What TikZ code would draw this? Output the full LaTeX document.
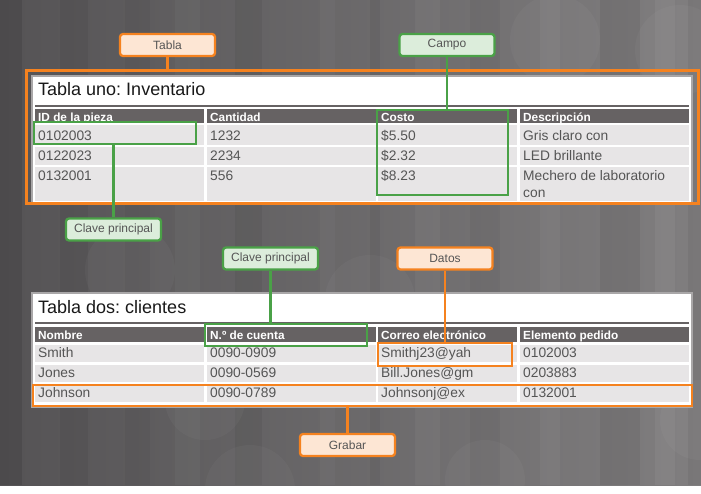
\documentclass[tikz,border=0pt]{standalone}
\usepackage{fontspec}
\setmainfont{Liberation Sans}
\frenchspacing
\usetikzlibrary{calc}

\definecolor{bgleft}{HTML}{555355}
\definecolor{bgright}{HTML}{807E7F}
\definecolor{orangerim}{HTML}{F5821F}
\definecolor{orangefill}{HTML}{FDE6D4}
\definecolor{greenrim}{HTML}{4AA147}
\definecolor{greenfill}{HTML}{DCEDDB}
\definecolor{headgray}{HTML}{666263}
\definecolor{rowgray}{HTML}{E7E5E6}
\definecolor{celltext}{HTML}{555555}
\definecolor{panelrim}{HTML}{A9A7A8}

\tikzset{
  tag/.style={rounded corners=3pt, line width=2.3pt, minimum width=95pt,
    minimum height=22pt, inner sep=0pt, text=celltext,
    font=\fontsize{12}{14}\selectfont},
  orangetag/.style={tag, draw=orangerim, fill=orangefill},
  greentag/.style={tag, draw=greenrim, fill=greenfill},
  hibox/.style={draw, line width=2.8pt, inner sep=0pt},
  link/.style={line width=2.6pt},
  title/.style={anchor=base west, inner sep=0pt, text=black!90,
    font=\fontsize{18}{20}\selectfont},
  headtxt/.style={anchor=base west, inner sep=0pt, text=white,
    font=\fontsize{11.8}{12}\selectfont\bfseries},
  celltxt/.style={anchor=base west, inner sep=0pt, text=celltext,
    font=\fontsize{13.8}{15}\selectfont},
}

\begin{document}
\begin{tikzpicture}[x=1pt,y=-1pt]
  \useasboundingbox (0,0) rectangle (701,493);
  % background
  \fill[white] (0,0) rectangle (701,493);
  \shade[left color=bgleft, right color=bgright] (0,0) rectangle (701,485);
  \begin{scope}
    \clip (0,0) rectangle (701,485);
    \foreach \xa/\xb/\op in {0/22/0.10,60/88/0.05,125/150/0.04,235/262/0.05,
        370/380/0.05,470/500/0.04,600/640/0.06,688/701/0.05}
      \fill[black, opacity=\op] (\xa,0) rectangle (\xb,485);
    \foreach \xa/\xb/\op in {175/200/0.03,320/335/0.03,415/440/0.04,
        540/560/0.04,655/675/0.05}
      \fill[white, opacity=\op] (\xa,0) rectangle (\xb,485);
    \foreach \cx/\cy/\r in {130/270/45,250/490/45,205/400/40,370/300/45,
        485/480/40,560/350/45,555/40/45,635/150/35,700/420/40,680/50/45}
      \fill[white, opacity=0.03] (\cx,\cy) circle (\r);
  \end{scope}

  % table one
  \fill[white, draw=panelrim, line width=1.5pt] (32,76) rectangle (692,203);
  \node[title] (titleA) at (38,95) {Tabla uno: Inventario};
  \draw[headgray, line width=2pt] (35,106) -- (689,106);
  \foreach \xa/\xb in {35/204,207/376,378/517,520/689} {
    \fill[headgray] (\xa,109) rectangle (\xb,123);
    \foreach \ya/\yb in {125/145,147/165,167/201}
      \fill[rowgray] (\xa,\ya) rectangle (\xb,\yb);
  }
  \foreach \x/\hd/\ra/\rb/\rc [count=\c] in {
      38/ID de la pieza/0102003/0122023/0132001,
      210/Cantidad/1232/2234/556,
      381/Costo/\$5.50/\$2.32/\$8.23,
      523/Descripción/Gris claro con/LED brillante/Mechero de laboratorio} {
    \node[headtxt] (headA-\c) at (\x,121) {\hd};
    \node[celltxt] (rowA1-\c) at (\x,140) {\ra};
    \node[celltxt] (rowA2-\c) at (\x,160) {\rb};
    \node[celltxt] (rowA3-\c) at (\x,180) {\rc};
  }
  \node[celltxt] (rowA3-more) at (523,197) {con};

  % table two
  \fill[white, draw=panelrim, line width=1.5pt] (32,293) rectangle (692,407);
  \node[title] (titleB) at (38,313) {Tabla dos: clientes};
  \draw[headgray, line width=2pt] (35,323) -- (689,323);
  \foreach \xa/\xb in {35/204,207/376,378/517,520/689} {
    \fill[headgray] (\xa,327) rectangle (\xb,342);
    \foreach \ya/\yb in {345/362,365/382,385/402}
      \fill[rowgray] (\xa,\ya) rectangle (\xb,\yb);
  }
  \foreach \x/\hd/\ra/\rb/\rc [count=\c] in {
      38/Nombre/Smith/Jones/Johnson,
      210/N.º de cuenta/0090-0909/0090-0569/0090-0789,
      381/Correo electrónico/Smithj23@yah/Bill.Jones@gm/Johnsonj@ex,
      523/Elemento pedido/0102003/0203883/0132001} {
    \node[headtxt] (headB-\c) at (\x,339) {\hd};
    \node[celltxt] (rowB1-\c) at (\x,357) {\ra};
    \node[celltxt] (rowB2-\c) at (\x,377) {\rb};
    \node[celltxt] (rowB3-\c) at (\x,397) {\rc};
  }

  % highlight boxes
  \node[hibox, draw=orangerim, line width=3pt, minimum width=672pt,
    minimum height=133pt] (tableA) at (362,136.5) {};
  \node[hibox, draw=greenrim, minimum width=162pt, minimum height=22pt]
    (keyA) at (115,133) {};
  \node[hibox, draw=greenrim, minimum width=131pt, minimum height=85pt]
    (field) at (442.5,152.5) {};
  \node[hibox, draw=greenrim, minimum width=162pt, minimum height=22pt]
    (keyB) at (286,335) {};
  \node[hibox, draw=orangerim, minimum width=134pt, minimum height=23pt]
    (datum) at (445,354.5) {};
  \node[hibox, draw=orangerim, minimum width=659pt, minimum height=21pt]
    (record) at (362.5,395.5) {};

  % tags
  \node[orangetag] (tabla) at (167.5,45) {Tabla};
  \node[greentag] (campo) at (447,45) {Campo};
  \node[greentag] (claveA) at (113.5,229.5) {Clave principal};
  \node[greentag] (claveB) at (270.5,258.5) {Clave principal};
  \node[orangetag] (datos) at (445,258.5) {Datos};
  \node[orangetag] (grabar) at (347.5,445) {Grabar};

  \draw[link, orangerim] (tabla.south) -- (tabla.south |- tableA.north);
  \draw[link, greenrim] (campo.south) -- (campo.south |- field.north);
  \draw[link, greenrim] (claveA.north) -- (claveA.north |- keyA.south);
  \draw[link, greenrim] (claveB.south) -- (claveB.south |- keyB.north);
  \draw[link, orangerim] (datos.south) -- (datos.south |- datum.north);
  \draw[link, orangerim] (grabar.north) -- (grabar.north |- record.south);
\end{tikzpicture}
\end{document}
